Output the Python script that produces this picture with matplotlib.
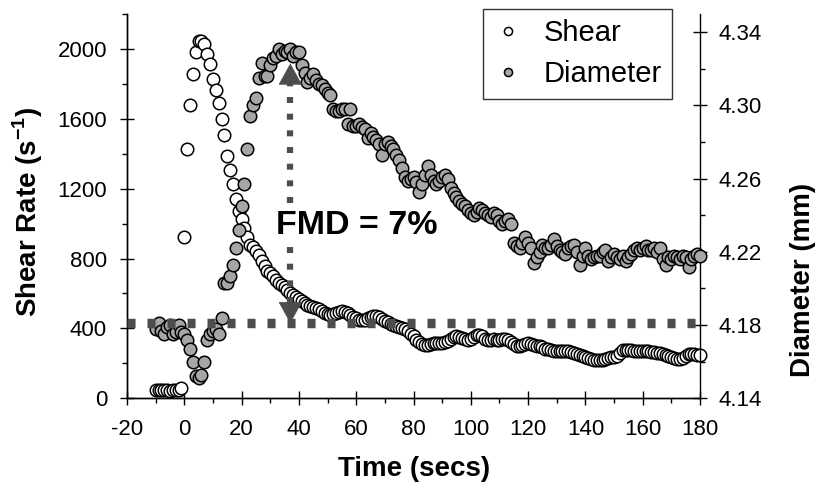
# shear rate and brachial diameter after cuff release (FMD), two y axes
import matplotlib
matplotlib.use('Agg')
import matplotlib.pyplot as plt
import numpy as np
from matplotlib.ticker import MultipleLocator, FormatStrFormatter

plt.rcParams['font.family'] = ['Liberation Sans', 'DejaVu Sans']
plt.rcParams['axes.unicode_minus'] = False
plt.rcParams['mathtext.fontset'] = 'custom'
plt.rcParams['mathtext.rm'] = 'Liberation Sans'
plt.rcParams['mathtext.bf'] = 'Liberation Sans:bold'
plt.rcParams['lines.scale_dashes'] = False

### data ###
start_time = -10  # secs, one sample per second

shear = [
    45, 50, 48, 45, 47, 44, 46, 45, 48, 58,
    925, 1425, 1680, 1855, 1985, 2045, 2045, 2030, 1970, 1915,
    1830, 1765, 1690, 1600, 1505, 1385, 1305, 1225, 1140, 1075,
    1025, 975, 925, 880, 865, 845, 820, 785, 755, 730,
    720, 700, 678, 662, 650, 635, 618, 605, 593, 580,
    568, 557, 545, 535, 526, 520, 517, 510, 500, 490,
    480, 478, 483, 488, 495, 498, 495, 490, 478, 468,
    458, 450, 448, 450, 458, 465, 470, 470, 465, 455,
    442, 435, 425, 420, 415, 410, 405, 395, 385, 370,
    355, 335, 320, 308, 305, 307, 310, 315, 318, 316,
    315, 320, 326, 340, 352, 356, 352, 345, 338, 335,
    340, 350, 362, 365, 355, 342, 336, 335, 338, 336,
    334, 338, 340, 336, 325, 312, 300, 298, 305, 312,
    316, 312, 305, 300, 297, 292, 285, 280, 276, 272,
    268, 268, 270, 268, 268, 265, 260, 254, 248, 240,
    234, 230, 226, 222, 220, 220, 222, 226, 230, 235,
    238, 245, 260, 274, 278, 276, 274, 272, 270, 268,
    268, 270, 268, 266, 264, 262, 258, 252, 246, 240,
    234, 228, 224, 225, 232, 242, 252, 255, 252, 248,
    246,
]

diameter = [
    4.178, 4.181, 4.177, 4.175, 4.179, 4.180, 4.175, 4.176, 4.180, 4.176,
    4.175, 4.172, 4.167, 4.160, 4.152, 4.151, 4.153, 4.160, 4.172, 4.175,
    4.177, 4.178, 4.175, 4.184, 4.203, 4.203, 4.207, 4.213, 4.222, 4.232,
    4.245, 4.257, 4.276, 4.294, 4.300, 4.304, 4.315, 4.323, 4.316, 4.316,
    4.322, 4.326, 4.327, 4.331, 4.328, 4.330, 4.329, 4.331, 4.327, 4.329,
    4.329, 4.322, 4.318, 4.313, 4.315, 4.317, 4.314, 4.312, 4.311, 4.309,
    4.307, 4.306, 4.298, 4.297, 4.297, 4.298, 4.298, 4.290, 4.298, 4.289,
    4.289, 4.290, 4.288, 4.287, 4.282, 4.285, 4.283, 4.281, 4.279, 4.273,
    4.279, 4.280, 4.278, 4.276, 4.273, 4.270, 4.266, 4.261, 4.259, 4.260,
    4.261, 4.258, 4.253, 4.257, 4.262, 4.267, 4.262, 4.259, 4.257, 4.259,
    4.261, 4.262, 4.260, 4.255, 4.252, 4.250, 4.248, 4.246, 4.245, 4.243,
    4.241, 4.240, 4.242, 4.244, 4.243, 4.241, 4.240, 4.239, 4.241, 4.240,
    4.237, 4.235, 4.237, 4.238, 4.235, 4.225, 4.223, 4.222, 4.225, 4.228,
    4.225, 4.222, 4.214, 4.217, 4.220, 4.224, 4.222, 4.222, 4.224, 4.227,
    4.223, 4.221, 4.220, 4.219, 4.222, 4.223, 4.224, 4.220, 4.213, 4.218,
    4.222, 4.218, 4.216, 4.217, 4.218, 4.218, 4.220, 4.221, 4.215, 4.217,
    4.219, 4.217, 4.216, 4.218, 4.215, 4.217, 4.219, 4.221, 4.222, 4.221,
    4.222, 4.223, 4.221, 4.221, 4.222, 4.220, 4.222, 4.216, 4.213, 4.217,
    4.216, 4.218, 4.217, 4.216, 4.218, 4.217, 4.212, 4.216, 4.218, 4.219,
    4.218,
]

baseline_diam = 4.181   # resting diameter (dashed line)
peak_diam = 4.323       # top of the FMD arrow
arrow_time = 37
fmd_label = 'FMD = 7%'
fmd_pos = (60.3, 4.2345)

time_s = np.arange(start_time, start_time + len(shear))

dark = '#4d4d4d'

fig = plt.figure(figsize=(8.18, 4.86), dpi=100)
ax = fig.add_axes([127 / 818, 1 - 398.3 / 486, 573 / 818, 384.3 / 486])
ax2 = ax.twinx()

ax.plot(time_s, shear, 'o', ms=9, mfc='white', mec='black', mew=1.1,
        label='Shear', zorder=3, clip_on=False)
ax2.plot(time_s, diameter, 'o', ms=9, mfc='#a6a6a8', mec='black', mew=1.1,
         label='Diameter', zorder=3, clip_on=False)

# baseline diameter
ax2.plot([-20, 180], [baseline_diam, baseline_diam], color=dark, lw=6.8,
         dashes=(5.8, 8.6), dash_capstyle='butt', zorder=4)

# double headed dotted arrow
head_len = 0.011
ax2.plot([arrow_time, arrow_time], [baseline_diam + head_len, peak_diam - head_len],
         color=dark, lw=4.5, dashes=(4.3, 7.7), dash_capstyle='butt', zorder=4)
for tip, tail in [(peak_diam, peak_diam - head_len), (baseline_diam, baseline_diam + head_len)]:
    ax2.annotate('', xy=(arrow_time, tip), xytext=(arrow_time, tail),
                 arrowprops=dict(arrowstyle='-|>,head_length=1.45,head_width=0.8',
                                 mutation_scale=10, color=dark, lw=0.5,
                                 shrinkA=0, shrinkB=0), zorder=4)
ax2.text(fmd_pos[0], fmd_pos[1], fmd_label, fontsize=24.5, fontweight='bold',
         ha='center', va='center', zorder=6,
         bbox=dict(fc='white', ec='none', pad=2))

# axes
ax.set_xlim(-20, 180)
ax.set_ylim(0, 2200)
ax2.set_ylim(4.14, 4.35)
ax.xaxis.set_major_locator(MultipleLocator(20))
ax.xaxis.set_minor_locator(MultipleLocator(10))
ax.yaxis.set_major_locator(MultipleLocator(400))
ax.yaxis.set_minor_locator(MultipleLocator(200))
ax2.yaxis.set_major_locator(MultipleLocator(0.04, offset=0.02))
ax2.yaxis.set_minor_locator(MultipleLocator(0.02))
ax2.yaxis.set_major_formatter(FormatStrFormatter('%.2f'))

for a in (ax, ax2):
    a.spines['top'].set_visible(False)
    for s in a.spines.values():
        s.set_linewidth(1.0)
ax.spines['right'].set_visible(False)

ax.tick_params(axis='x', which='major', direction='inout', length=9.4, width=1, labelsize=16, pad=10)
ax.tick_params(axis='x', which='minor', direction='out', length=3.6, width=1)
ax.tick_params(axis='y', which='major', direction='inout', length=9.4, width=1, labelsize=16, pad=9.7)
ax.tick_params(axis='y', which='minor', direction='out', length=3.6, width=1)
ax2.tick_params(axis='y', which='major', direction='inout', length=9.4, width=1, labelsize=16, pad=8.3)
ax2.tick_params(axis='y', which='minor', direction='out', length=3.6, width=1)

ax.set_xlabel('Time (secs)', fontsize=20, fontweight='bold')
ax.xaxis.label.set_va('center')
ax.xaxis.set_label_coords(0.501, (398.3 - 469) / 384.3)
ax.set_ylabel(r'Shear Rate (s$^{\mathbf{-1}}$)', fontsize=20, fontweight='bold')
ax.yaxis.label.set_va('center')
ax.yaxis.set_label_coords((28 - 127) / 573, (398.3 - 211.5) / 384.3)
ax2.set_ylabel('Diameter (mm)', fontsize=20, fontweight='bold')
ax2.yaxis.label.set_va('center')
ax2.yaxis.set_label_coords((803 - 127) / 573, (398.3 - 280) / 384.3)

h1, l1 = ax.get_legend_handles_labels()
h2, l2 = ax2.get_legend_handles_labels()
leg = ax2.legend(h1 + h2, l1 + l2, loc='upper right',
                 bbox_to_anchor=(672 / 818, 1 - 9 / 486), bbox_transform=fig.transFigure,
                 borderaxespad=0, fontsize=21, markerscale=0.65, fancybox=False,
                 edgecolor='#333333', framealpha=1, handlelength=1.0,
                 handletextpad=0.72, borderpad=0.35, labelspacing=0.45)
leg.get_frame().set_linewidth(1.0)

fig.savefig('out.png', dpi=100)
